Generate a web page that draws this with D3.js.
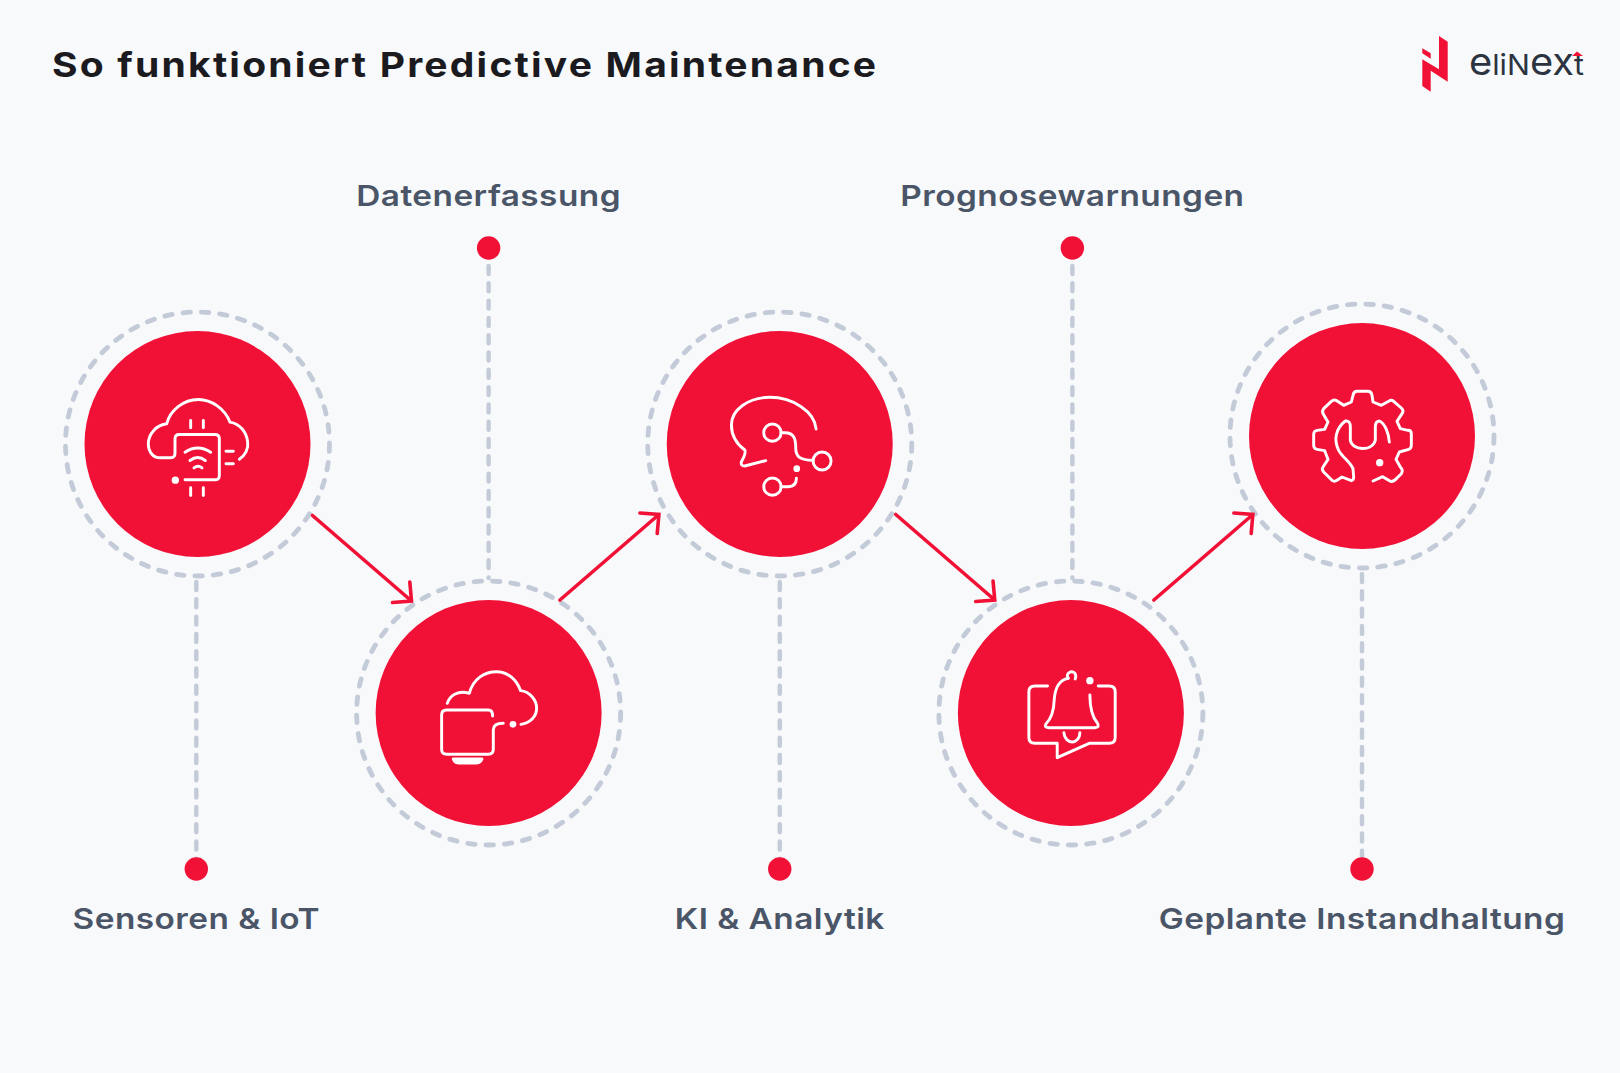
<!DOCTYPE html>
<html>
<head>
<meta charset="utf-8">
<script src="https://cdn.jsdelivr.net/npm/d3@7"></script>
<style>
html,body{margin:0;padding:0;background:#f8f9fb;overflow:hidden}
text{font-family:Inter,"Noto Sans",sans-serif}
</style>
</head>
<body>
<script>
var title="So funktioniert Predictive Maintenance";
var steps=["Sensoren & IoT","Datenerfassung","KI & Analytik","Prognosewarnungen","Geplante Instandhaltung"];
var levels=[269,0,269,0,277];
var labelSide=["bottom","top","bottom","top","bottom"];

var red="#f11136",grey="#c3cad8",paper="#f8f9fb";
var width=1620,height=1073;

var icons=[
 {o:[202.5,190.5],
  lines:["M328 236C345 225 356 205 353 185C350 155 330 130 300 125C285 85 245 57 205 57C160 57 120 90 110 130C80 133 55 160 55 190C55 215 70 232 90 232L120 232Q135 232 135 218L135 175Q135 162 148 162L255 162Q268 162 268 175L268 285Q268 298 255 298L165 298",
  "M182 120V142M220 120V142M182 322V345M220 322V345M288 212H310M288 250H310",
  "M165 215Q203 190 242 215M180 240Q203 222 226 240M192 262Q204 252 216 262"],
  dots:[[136,299,11]]},
 {o:[206,219],
  lines:["M82 190C90 165 115 150 148 160C160 115 195 95 230 95C265 95 290 120 302 152C330 155 350 180 350 205C350 230 330 250 303 253",
  "M218 228Q218 210 205 210L80 210Q65 210 65 225L65 328Q65 343 80 343L205 343Q220 343 220 328L220 270Q220 250 250 250",
  "M100 357H186Q182 369 170 369L115 369Q103 369 100 357Z"],
  dots:[[279,253,10]]},
 {o:[210,192],
  lines:["M319 147C315 95 250 52 180 52C115 52 65 90 65 135C65 170 85 195 105 210C110 220 100 235 95 245Q92 258 105 258L168 242",
  "M214 158L225 158C255 158 258 180 258 205C258 230 270 240 310 241M214 320L235 320C252 320 260 310 260 295"],
  rings:[[188,158,26],[337,243,27],[188,320,26]],
  dots:[[261,266,10]]},
 {o:[213,189],
  lines:["M143 108L105 108Q87 108 87 126L87 262Q87 280 105 280L172 280L172 323L268 280L328 280Q346 280 346 262L346 126Q346 108 328 108L295 108",
  "M205 85C175 90 165 120 163 150C162 185 150 210 138 222Q132 233 148 233L285 233Q300 233 293 220C280 205 270 185 270 135",
  "M205 85C195 70 215 60 225 70Q230 77 226 87",
  "M192 248C195 285 240 285 240 248"],
  dots:[[270,92,11]]},
 {o:[210,192],
  lines:["M243 327L272 314L295 328Q305 330 315 318L328 305Q335 295 325 285L312 262L322 240L350 232Q358 230 358 220L358 185Q358 175 348 175L325 170L315 148L332 122Q335 115 328 108L305 88Q298 82 290 88L268 100L243 90L240 70Q238 58 228 58L195 58Q185 58 183 70L178 90L155 100L132 85Q125 82 118 88L95 110Q88 118 95 128L108 150L98 172L75 175Q65 177 65 187L65 220Q65 230 75 232L98 236L108 262L93 285Q88 292 95 300L120 325Q127 330 135 325L150 315L178 326Q185 325 185 315L183 290C175 270 150 255 140 235C125 205 130 170 160 147Q175 145 175 165L175 205C180 235 240 240 250 205L250 165Q250 148 262 147C280 155 290 185 292 210"],
  dots:[[263,272,11]]}
];

var x=d3.scalePoint().domain(steps).range([197.5,1362]);
var y=d3.scaleLinear().domain([0,269]).range([713,444]);

var svg=d3.select("body").append("svg")
  .attr("width",width).attr("height",height)
  .style("display","block");
svg.append("rect").attr("width",width).attr("height",height).attr("fill",paper);

svg.append("text").text(title)
  .attr("transform","translate(52,76.5) scale(1.149,1)")
  .attr("font-size",34).attr("font-weight",700)
  .attr("letter-spacing",1.9)
  .attr("fill","#1b1b1f");

var rOuter=132,rInner=113;
var pinTop=248,pinBottom=869;
var pinShift=[-1.2,0,0,1.5,0];
var pinX=function(d,i){return x(d)+pinShift[i]};

// pin lines
svg.append("g").selectAll("line").data(steps).enter().append("line")
  .attr("x1",pinX)
  .attr("x2",pinX)
  .attr("y1",function(d,i){return labelSide[i]=="top"?pinTop+18:y(levels[i])+rOuter+6})
  .attr("y2",function(d,i){return labelSide[i]=="top"?y(levels[i])-rOuter-3:pinBottom})
  .attr("stroke",grey).attr("stroke-width",4.4)
  .attr("stroke-linecap","round")
  .attr("stroke-dasharray","8 9.3");

svg.append("g").selectAll("circle").data(steps).enter().append("circle")
  .attr("cx",pinX)
  .attr("cy",function(d,i){return labelSide[i]=="top"?pinTop:pinBottom})
  .attr("r",11.7).attr("fill",red);

// rings
var nodes=svg.append("g").selectAll("g").data(steps).enter().append("g")
  .attr("transform",function(d,i){return "translate("+x(d)+","+y(levels[i])+")"});
nodes.append("circle").attr("r",rOuter)
  .attr("fill","none").attr("stroke",grey).attr("stroke-width",4.8)
  .attr("stroke-linecap","round").attr("stroke-dasharray","7.5 10.9");
nodes.append("circle").attr("r",rInner).attr("fill",red);

// icons
var ic=nodes.append("g")
  .attr("transform",function(d,i){return "scale("+(1/3)+") translate("+(-icons[i].o[0])+","+(-icons[i].o[1])+")"});
ic.each(function(d,i){
  var g=d3.select(this),k=icons[i];
  g.selectAll("path").data(k.lines).enter().append("path")
    .attr("d",function(p){return p})
    .attr("fill",function(p){return p.slice(-1)=="Z"?"#fff":"none"})
    .attr("stroke","#fff").attr("stroke-width",8.8)
    .attr("stroke-linecap","round").attr("stroke-linejoin","round");
  g.selectAll("circle.r").data(k.rings||[]).enter().append("circle").attr("class","r")
    .attr("cx",function(c){return c[0]}).attr("cy",function(c){return c[1]}).attr("r",function(c){return c[2]})
    .attr("fill","none").attr("stroke","#fff").attr("stroke-width",8.8);
  g.selectAll("circle.d").data(k.dots).enter().append("circle").attr("class","d")
    .attr("cx",function(c){return c[0]}).attr("cy",function(c){return c[1]}).attr("r",function(c){return c[2]})
    .attr("fill","#fff");
});

// arrows between steps
var arrowStart=[[115,71.5],[71.3,-113],[116,70.5],[83,-113]];
var arrowRun=[99,85.5];
var head=19;
svg.append("g").selectAll("path").data(steps.slice(0,-1)).enter().append("path")
  .attr("d",function(d,i){
    var a=arrowStart[i];
    var x0=x(d)+a[0],y0=y(levels[i])+a[1];
    var dir=a[1]>0?1:-1;
    var x1=x0+arrowRun[0],y1=y0+dir*arrowRun[1];
    return "M"+x0+" "+y0+"L"+x1+" "+y1+
      "M"+(x1-1.7)+" "+(y1-dir*head)+"L"+x1+" "+y1+"L"+(x1-head)+" "+(y1+dir*1.5);
  })
  .attr("fill","none").attr("stroke",red).attr("stroke-width",3.6)
  .attr("stroke-linecap","round").attr("stroke-linejoin","miter");

// labels
svg.append("g").selectAll("text").data(steps).enter().append("text")
  .text(function(d){return d})
  .attr("transform",function(d,i){
    return "translate("+pinX(d,i)+","+(labelSide[i]=="top"?206:929)+") scale(1.15,1)";
  })
  .attr("text-anchor","middle")
  .attr("font-size",29).attr("font-weight",600)
  .attr("letter-spacing",0.4)
  .attr("fill","#4a5568");

// logo
var logo=svg.append("g");
logo.append("path").attr("d","M1439 36L1447.7 41.7V81.7L1430.7 70.7V91.7L1422.3 86V59.3L1439 69.3Z M1422.3 48.3L1430.7 53.3V58.7L1422.3 53.3Z").attr("fill",red);
var word=logo.append("text").attr("x",1469).attr("y",75).attr("fill","#2b3440").attr("font-weight",400)
  .attr("textLength",115).attr("lengthAdjust","spacingAndGlyphs");
["e","l","i","N","e","x","t"].forEach(function(c){
  word.append("tspan").text(c).attr("font-size",c=="e"||c=="x"?38:29);
});
logo.append("path").attr("d","M1572 56L1577 51.5L1583 56Z").attr("fill",red);
</script>
</body>
</html>
